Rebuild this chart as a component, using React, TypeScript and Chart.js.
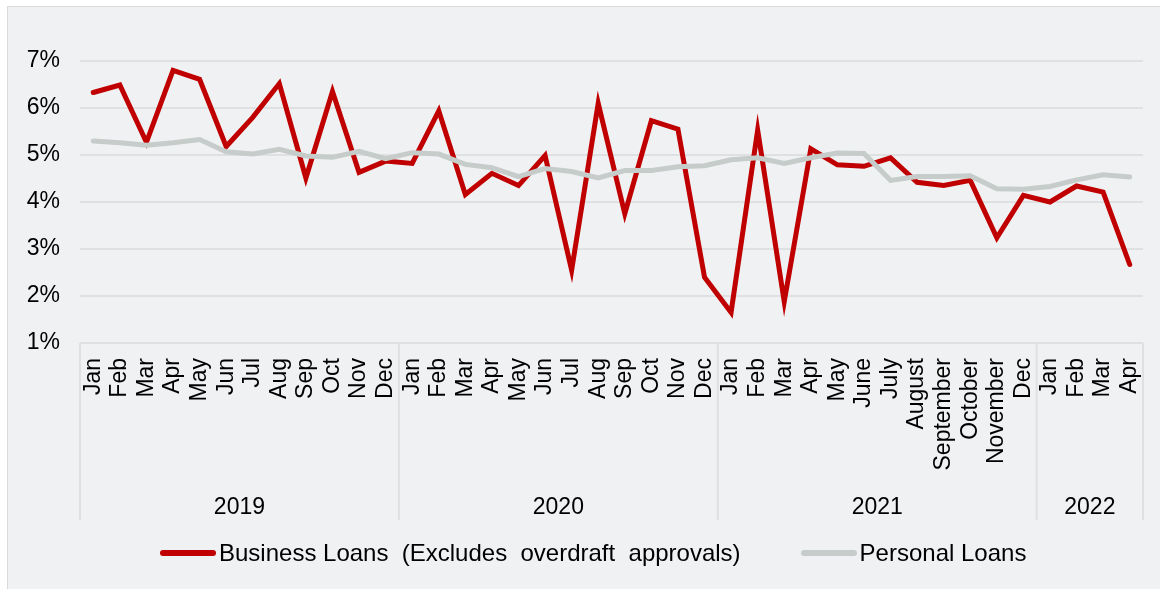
import { useEffect, useRef } from 'react';
import { Chart, registerables } from 'chart.js';

Chart.register(...registerables);

const FONT = '"Liberation Sans", Arial, sans-serif';

// month labels, as printed under the axis
const months = [
    'Jan', 'Feb', 'Mar', 'Apr', 'May', 'Jun', 'Jul', 'Aug', 'Sep', 'Oct', 'Nov', 'Dec',
    'Jan', 'Feb', 'Mar', 'Apr', 'May', 'Jun', 'Jul', 'Aug', 'Sep', 'Oct', 'Nov', 'Dec',
    'Jan', 'Feb', 'Mar', 'Apr', 'May', 'June', 'July', 'August', 'September', 'October', 'November', 'Dec',
    'Jan', 'Feb', 'Mar', 'Apr',
];
const years = ['2019', '2020', '2021', '2022'];
const monthsPerYear = [12, 12, 12, 4];

// values in %
const businessLoans = [
    6.33, 6.49, 5.27, 6.8, 6.61, 5.18, 5.8, 6.52, 4.51, 6.35, 4.63, 4.87,
    4.82, 5.94, 4.16, 4.61, 4.35, 4.99, 2.55, 6.1, 3.75, 5.73, 5.55, 2.4,
    1.65, 5.53, 1.88, 5.13, 4.79, 4.76, 4.94, 4.42, 4.35, 4.46, 3.24, 4.14,
    4.0, 4.34, 4.21, 2.67,
];
const personalLoans = [
    5.3, 5.26, 5.21, 5.26, 5.33, 5.07, 5.02, 5.12, 4.98, 4.95, 5.08, 4.92,
    5.05, 5.02, 4.8, 4.73, 4.54, 4.71, 4.65, 4.51, 4.67, 4.67, 4.75, 4.77,
    4.9, 4.94, 4.82, 4.94, 5.04, 5.03, 4.46, 4.54, 4.54, 4.56, 4.28, 4.27,
    4.33, 4.47, 4.58, 4.53,
];
const yTicks = [1, 2, 3, 4, 5, 6, 7];

const RED = '#C00000';
const GREY = '#C6CCCA';
const GRID = '#DFE0E2';

// draws the year row under the month labels, with its separators
const yearGroupsPlugin = {
    id: 'yearGroups',
    afterDraw(chart: any) {
        const { ctx, chartArea } = chart;
        const x = chart.scales.x;
        const edges = [chartArea.left];
        let idx = 0;
        monthsPerYear.forEach((n, i) => {
            idx += n;
            if (i === monthsPerYear.length - 1) edges.push(chartArea.right);
            else edges.push((x.getPixelForValue(idx - 1) + x.getPixelForValue(idx)) / 2);
        });
        ctx.save();
        ctx.strokeStyle = GRID;
        ctx.lineWidth = 2;
        edges.forEach((ex) => {
            ctx.beginPath();
            ctx.moveTo(ex, x.top);
            ctx.lineTo(ex, x.bottom);
            ctx.stroke();
        });
        ctx.fillStyle = '#000';
        ctx.font = `23px ${FONT}`;
        ctx.textAlign = 'center';
        ctx.textBaseline = 'middle';
        years.forEach((yr, i) => {
            ctx.fillText(yr, (edges[i] + edges[i + 1]) / 2, x.bottom - 12);
        });
        ctx.restore();
    },
};

export default function App() {
    const chartRef = useRef<HTMLCanvasElement | null>(null);
    const chartInstance = useRef<Chart | null>(null);

    useEffect(() => {
        const ctx = chartRef.current?.getContext('2d');
        if (!ctx) return;
        if (chartInstance.current) chartInstance.current.destroy();

        chartInstance.current = new Chart(ctx, {
            type: 'line',
            data: {
                labels: months,
                datasets: [
                    {
                        label: 'Business Loans  (Excludes  overdraft  approvals)',
                        data: businessLoans,
                        borderColor: RED,
                        backgroundColor: RED,
                        borderWidth: 5,
                        pointRadius: 0,
                        tension: 0,
                        borderCapStyle: 'round',
                        order: 1,
                    },
                    {
                        label: 'Personal Loans',
                        data: personalLoans,
                        borderColor: GREY,
                        backgroundColor: GREY,
                        borderWidth: 5,
                        pointRadius: 0,
                        tension: 0,
                        borderCapStyle: 'round',
                        order: 0,
                    },
                ],
            },
            options: {
                responsive: false,
                animation: false,
                layout: { padding: { top: 54, right: 17, bottom: 69, left: 0 } },
                scales: {
                    x: {
                        offset: true,
                        grid: { display: false, drawTicks: false },
                        border: { display: false },
                        ticks: {
                            autoSkip: false,
                            minRotation: 90,
                            maxRotation: 90,
                            padding: 15,
                            color: '#000',
                            font: { family: FONT, size: 23 },
                        },
                        afterFit: (scale: any) => {
                            scale.height = 177;
                            scale.paddingLeft = 0;
                            scale.paddingRight = 0;
                        },
                    },
                    y: {
                        min: yTicks[0],
                        max: yTicks[yTicks.length - 1],
                        grid: { color: GRID, lineWidth: 2, drawTicks: false },
                        border: { display: false },
                        ticks: {
                            stepSize: 1,
                            padding: 20,
                            color: '#000',
                            font: { family: FONT, size: 23 },
                            callback: (v: any) => `${v}%`,
                        },
                        afterFit: (scale: any) => {
                            scale.width = 72;
                        },
                    },
                },
                plugins: {
                    legend: { display: false },
                    tooltip: { enabled: false },
                },
            },
            plugins: [yearGroupsPlugin],
        });

        return () => {
            if (chartInstance.current) {
                chartInstance.current.destroy();
                chartInstance.current = null;
            }
        };
    }, []);

    const legendItem = (color: string, text: string) => (
        <div style={{ display: 'flex', alignItems: 'center', gap: 3 }}>
            <div style={{ width: 56, height: 6, borderRadius: 3, background: color }} />
            <span>{text}</span>
        </div>
    );

    return (
        <div
            style={{
                position: 'fixed',
                left: 7,
                top: 6,
                right: 0,
                bottom: 0,
                background: '#F0F1F3',
                borderLeft: '1px solid #D9D9D9',
                borderTop: '1px solid #D9D9D9',
            }}
        >
            <canvas ref={chartRef} width={1152} height={582} style={{ display: 'block' }}></canvas>
            <div
                style={{
                    position: 'absolute',
                    left: 152,
                    top: 532,
                    display: 'flex',
                    gap: 60,
                    fontFamily: FONT,
                    fontSize: 24,
                    lineHeight: '28px',
                    color: '#000',
                    whiteSpace: 'pre',
                }}
            >
                {legendItem(RED, 'Business Loans  (Excludes  overdraft  approvals)')}
                {legendItem(GREY, 'Personal Loans')}
            </div>
        </div>
    );
}
